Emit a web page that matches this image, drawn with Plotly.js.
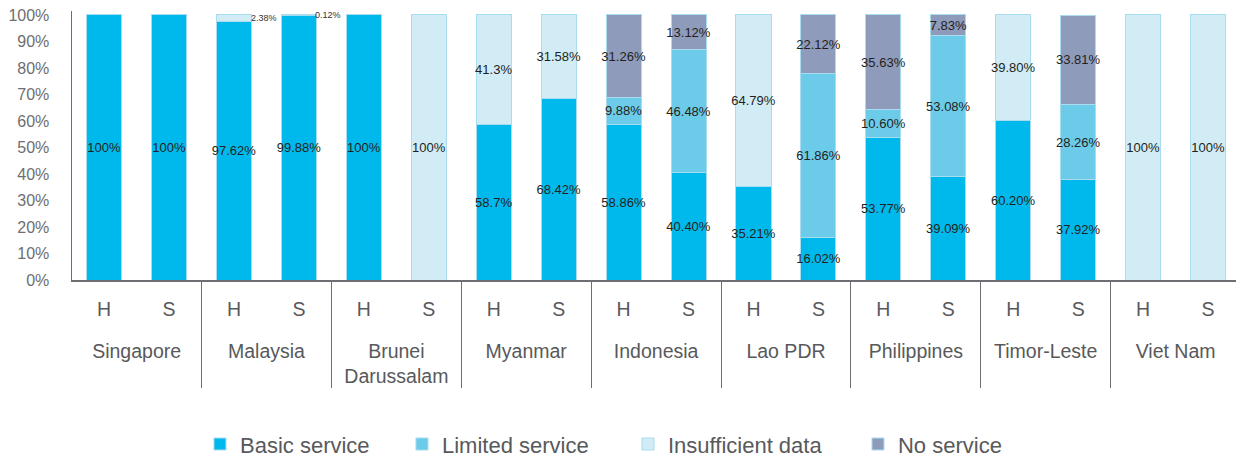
<!DOCTYPE html>
<html>
<head>
<meta charset="utf-8">
<script src="https://cdn.plot.ly/plotly-3.0.1.min.js"></script>
<style>html,body{margin:0;padding:0;background:#fff;}#chart{width:1236px;height:457px;}</style>
</head>
<body>
<div id="chart"></div>
<script>
// ---- Data ----
const countries = ['Singapore', 'Malaysia', 'Brunei<br>Darussalam', 'Myanmar', 'Indonesia', 'Lao PDR', 'Philippines', 'Timor-Leste', 'Viet Nam'];
const levels = ['H', 'S'];

// one value per bar, in order: country1 H, country1 S, country2 H, ...
const basic        = [100, 100, 97.62, 99.88, 100, null, 58.7, 68.42, 58.86, 40.40, 35.21, 16.02, 53.77, 39.09, 60.20, 37.92, null, null];
const basicLbl     = ['100%', '100%', '97.62%', '99.88%', '100%', '', '58.7%', '68.42%', '58.86%', '40.40%', '35.21%', '16.02%', '53.77%', '39.09%', '60.20%', '37.92%', '', ''];
const limited      = [null, null, null, null, null, null, null, null, 9.88, 46.48, null, 61.86, 10.60, 53.08, null, 28.26, null, null];
const limitedLbl   = ['', '', '', '', '', '', '', '', '9.88%', '46.48%', '', '61.86%', '10.60%', '53.08%', '', '28.26%', '', ''];
const insufficient = [null, null, 2.38, 0.12, null, 100, 41.3, 31.58, null, null, 64.79, null, null, null, 39.80, null, 100, 100];
const insufficientLbl = ['', '', '2.38%', '0.12%', '', '100%', '41.3%', '31.58%', '', '', '64.79%', '', '', '', '39.80%', '', '100%', '100%'];
const noService    = [null, null, null, null, null, null, null, null, 31.26, 13.12, null, 22.12, 35.63, 7.83, null, 33.81, null, null];
const noServiceLbl = ['', '', '', '', '', '', '', '', '31.26%', '13.12%', '', '22.12%', '35.63%', '7.83%', '', '33.81%', '', ''];

const seriesNames = ['Basic service', 'Limited service', 'Insufficient data', 'No service'];
const yTicks = [0, 10, 20, 30, 40, 50, 60, 70, 80, 90, 100];

// ---- Build ----
// inner labels get an invisible tall spacer so the country row sits lower, as in the original
const spacer = '<span style="font-size:45px">\u00a0</span>';
const outer = [], inner = [];
countries.forEach(c => levels.forEach(l => { outer.push(c); inner.push(spacer + l + spacer); }));
const xCats = [outer, inner];

const colors = ['#00b9ec', '#6ccbe8', '#d1ecf5', '#8f9bbb'];
const legendWidths = [157, 181, 185, 110];
const vals = [basic, limited, insufficient, noService];
const lbls = [basicLbl, limitedLbl, insufficientLbl, noServiceLbl];
const SMALL = 3; // segments too thin to hold their label

const bargap = 0.46;
const traces = vals.map((v, k) => ({
  type: 'bar',
  name: seriesNames[k],
  x: xCats,
  y: v,
  text: lbls[k].map((t, i) => (v[i] !== null && v[i] < SMALL) ? '' : t),
  textposition: 'inside',
  insidetextanchor: 'middle',
  textangle: 0,
  constraintext: 'none',
  textfont: {size: 13, color: '#231f20'},
  marker: {color: colors[k], line: {color: '#a9dcef', width: 1}},
  legendwidth: legendWidths[k],
  hoverinfo: 'skip'
}));

// labels for thin segments, placed just right of the bar top
const annotations = [];
vals.forEach((v, k) => {
  v.forEach((val, i) => {
    if (val !== null && val < SMALL) {
      let base = 0;
      for (let j = 0; j < k; j++) base += (vals[j][i] || 0);
      annotations.push({
        x: i + (1 - bargap) / 2, y: base + val / 2,
        xref: 'x', yref: 'y',
        text: lbls[k][i], showarrow: false,
        xanchor: 'left', yanchor: 'middle', xshift: -3,
        font: {size: 9, color: '#333333'}
      });
    }
  });
});

const layout = {
  width: 1236, height: 457,
  margin: {l: 72, r: 0, t: 11, b: 177},
  barmode: 'stack',
  bargap: bargap,
  showlegend: true,
  hovermode: false,
  paper_bgcolor: '#ffffff',
  plot_bgcolor: '#ffffff',
  font: {family: 'Liberation Sans, Arial, sans-serif', color: '#58595b'},
  xaxis: {
    type: 'multicategory',
    range: [-0.495, 17.43],
    showline: true, linecolor: '#6d6e71', linewidth: 1.5,
    showdividers: true, dividercolor: '#6d6e71', dividerwidth: 1,
    ticks: '', ticklabelstandoff: 11,
    tickfont: {size: 19.5, color: '#58595b'},
    showgrid: false, zeroline: false, fixedrange: true
  },
  yaxis: {
    range: [0, 101.5],
    tickmode: 'array',
    tickvals: yTicks,
    ticktext: yTicks.map(v => v + '%'),
    showline: true, linecolor: '#6d6e71', linewidth: 1.5,
    ticks: '', ticklabelstandoff: 18,
    tickfont: {size: 16, color: '#6d6e71'},
    showgrid: false, zeroline: false, fixedrange: true
  },
  legend: {
    orientation: 'h',
    xref: 'container', yref: 'container',
    x: 0.1618, xanchor: 'left',
    y: 0.028, yanchor: 'middle',
    font: {size: 22, color: '#58595b'},
    traceorder: 'normal',
    itemclick: false, itemdoubleclick: false
  },
  annotations: annotations
};

Plotly.newPlot('chart', traces, layout, {displayModeBar: false, staticPlot: true});
</script>
</body>
</html>
